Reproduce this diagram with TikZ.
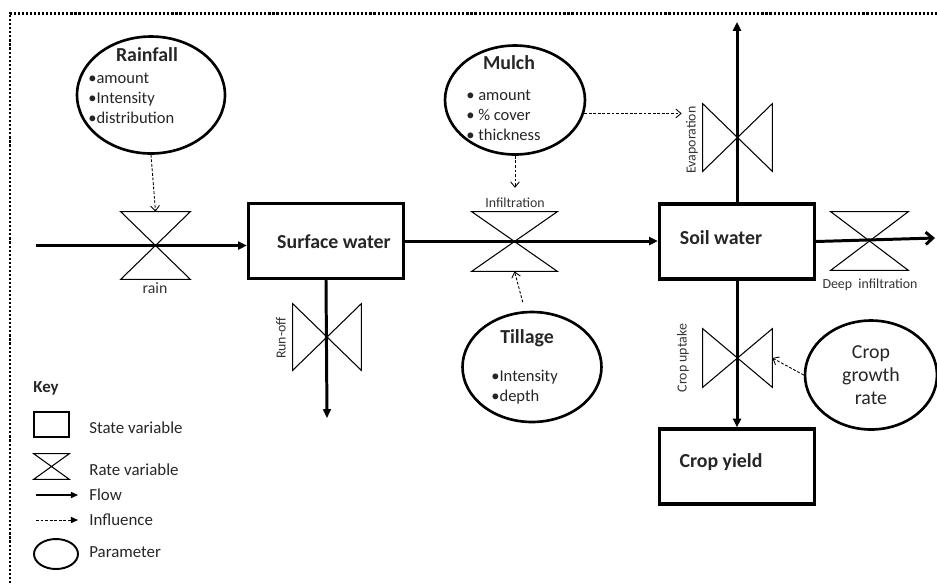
\documentclass[tikz,border=0pt]{standalone}
\usepackage{fontspec}
\setmainfont{Carlito}
\usetikzlibrary{arrows.meta,shapes.geometric,positioning}

\begin{document}
\begin{tikzpicture}[x=0.02cm,y=-0.02cm,
	statebox/.style={draw,line width=1.8pt,minimum width=3.1cm,minimum height=1.5cm,inner sep=0pt},
	ratevalve/.style 2 args={minimum width=#1,minimum height=#2,inner sep=0pt},
	param/.style={ellipse,draw,line width=1.5pt,inner sep=0pt},
	flow/.style={line width=1.7pt,-{Triangle[length=5pt,width=4.5pt]}},
	influence/.style={line width=0.5pt,dash pattern=on 1.6pt off 1pt,-{Straight Barb[length=3pt,width=5pt]}},
	valveline/.style={line width=0.6pt},
	title/.style={font=\fontsize{11.3}{13.5}\selectfont\bfseries,text=black!85,inner sep=0pt},
	items/.style={font=\fontsize{9.4}{11.3}\selectfont,text=black!85,align=left,inner sep=0pt,anchor=west},
	ratelabel/.style={font=\fontsize{7.9}{9.5}\selectfont,text=black!80,inner sep=0pt},
	keytext/.style={font=\fontsize{9.6}{11.5}\selectfont,text=black!85,inner sep=0pt,anchor=west},
	border/.style={line width=1.7pt,dash pattern=on 1.2pt off 1.1pt}]
	\useasboundingbox (0,0) rectangle (937,583);
	\draw[border] (10,583) -- (10,13) -- (937,13);
	
	\node[statebox] (surface) at (326,241) {};
	\node[statebox] (soil) at (737,241.5) {};
	\node[statebox] (yield) at (737,466.5) {};
	\node[title] (surfacetxt) at (334,242) {Surface water};
	\node[title] (soiltxt) at (721,238) {Soil water};
	\node[title] (yieldtxt) at (721,462) {Crop yield};
	
	\node[ratevalve={1.38cm}{1.34cm}] (rain) at (155.5,245.5) {};
	\node[ratevalve={1.7cm}{1.18cm}] (infil) at (514.5,241.5) {};
	\node[ratevalve={1.54cm}{1.16cm}] (deep) at (869.5,241) {};
	\node[ratevalve={1.38cm}{1.34cm}] (evap) at (737.5,137.5) {};
	\node[ratevalve={1.36cm}{1.32cm}] (runoff) at (327,337) {};
	\node[ratevalve={1.38cm}{1.16cm}] (uptake) at (737.5,358) {};
	\node[ratevalve={0.7cm}{0.5cm}] (keyrate) at (51.5,466.5) {};
	\foreach \v in {rain,infil,deep,keyrate}
		\draw[valveline] (\v.north west) -- (\v.north east) -- (\v.south west) -- (\v.south east) -- cycle;
	\foreach \v in {evap,runoff,uptake}
		\draw[valveline] (\v.north west) -- (\v.south west) -- (\v.north east) -- (\v.south east) -- cycle;
	
	\node[param,minimum width=2.96cm,minimum height=2.34cm] (rainfall) at (151,95) {};
	\node[param,minimum width=2.8cm,minimum height=2.18cm] (mulch) at (515,100) {};
	\node[param,minimum width=2.78cm,minimum height=2.2cm] (tillage) at (532,367) {};
	\node[param,minimum width=2.64cm,minimum height=2.18cm,font=\fontsize{11.3}{13.3}\selectfont,text=black!85,align=center] (growth) at (871,375) {Crop\\growth\\rate};
	\node[title] (rainfalltxt) at (147,55) {Rainfall};
	\node[items] (rainfallitems) at (88,98) {•amount\\•Intensity\\•distribution};
	\node[title] (mulchtxt) at (509,63) {Mulch};
	\node[items] (mulchitems) at (466,115) {• amount\\• \% cover\\• thickness};
	\node[title] (tillagetxt) at (527,338) {Tillage};
	\node[items] (tillageitems) at (491,387.5) {•Intensity\\•depth};
	
	\coordinate (rainin) at (36,245.5);
	\coordinate (evapout) at (737,22);
	\coordinate (deepout) at (935,238);
	\coordinate (runoffout) at (327,418);
	\draw[flow] (rainin) -- (rainin -| surface.west);
	\draw[flow] (surface.east) -- (surface.east -| soil.west);
	\draw[flow] (soil.north) -- (evapout);
	\draw[line width=1.7pt,-{Straight Barb[length=4pt,width=7pt]}] (soil.east) -- (deepout);
	\draw[flow] (soil.south) -- (yield.north);
	\draw[flow] (surface.south) -- (runoffout);
	
	\node[ratelabel,font=\fontsize{9}{11}\selectfont] (raintxt) at (155,288) {rain};
	\node[ratelabel] (infiltxt) at (515,203) {Infiltration};
	\node[ratelabel] (deeptxt) at (870,285) {Deep~ infiltration};
	\node[ratelabel,rotate=90] (evaptxt) at (692,140) {Evaporation};
	\node[ratelabel,rotate=90] (runofftxt) at (281,338) {Run-off};
	\node[ratelabel,rotate=90] (uptaketxt) at (683,358) {Crop uptake};
	
	\draw[influence] (rainfall.south) -- (rain.north);
	\draw[influence,shorten >=0.2cm] (mulch.south) -- (infiltxt.north);
	\draw[influence,shorten >=0.08cm] (mulch.-11) -- (mulch.-11 -| evaptxt.north);
	\draw[influence,shorten <=0.18cm] (tillage.97) -- (infil.south);
	\draw[influence] (growth.west) -- (uptake.east);
	
	\node[title,anchor=west,font=\fontsize{9.6}{11.5}\selectfont\bfseries] (keytitle) at (33,388) {Key};
	\node[draw,line width=1.2pt,minimum width=0.7cm,minimum height=0.5cm,inner sep=0pt] (keystate) at (51.5,424.5) {};
	\node[keytext] (keystatetxt) at (89,428) {State variable};
	\node[keytext] (keyratetxt) at (89,470) {Rate variable};
	\coordinate (keyflowa) at (36,495);
	\coordinate (keyflowb) at (78,495);
	\coordinate (keyinfla) at (36,520);
	\coordinate (keyinflb) at (78,520);
	\draw[line width=0.6pt,-{Triangle[length=4pt,width=3.5pt]}] (keyflowa) -- (keyflowb);
	\draw[line width=0.5pt,dash pattern=on 1.6pt off 1pt,-{Triangle[length=4pt,width=3.5pt]}] (keyinfla) -- (keyinflb);
	\node[keytext] (keyflowtxt) at (89,495) {Flow};
	\node[keytext] (keyinfltxt) at (89,520) {Influence};
	\node[param,line width=1.1pt,minimum width=0.88cm,minimum height=0.6cm] (keyparam) at (56,554) {};
	\node[keytext] (keyparamtxt) at (89,552) {Parameter};
\end{tikzpicture}
\end{document}
